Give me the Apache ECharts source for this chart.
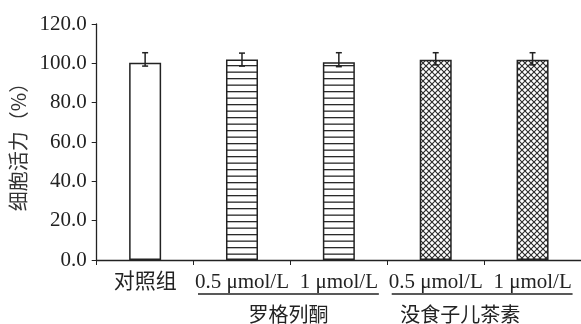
<!DOCTYPE html>
<html><head><meta charset="utf-8">
<script src="https://cdn.jsdelivr.net/npm/echarts@6/dist/echarts.min.js"></script>
<style>html,body{margin:0;padding:0;background:#fff}#c{width:581px;height:324px}</style>
</head><body><div id="c"></div>
<script>
// ---- data ----
var categories = ['对照组', '0.5 μmol/L', '1 μmol/L', '0.5 μmol/L', '1 μmol/L'];
var values = [100.3, 102.0, 100.5, 101.8, 101.8];
var errUpper = [105.4, 105.2, 105.4, 105.4, 105.4];
var errLower = [98.6, 98.6, 98.3, 99.2, 99.2];
var yTicks = [0, 20, 40, 60, 80, 100, 120];
var groupNames = ['罗格列酮', '没食子儿茶素'];
var groupSpans = [[1, 2], [3, 4]];
var yAxisName = '细胞活力（%）';

// ---- layout / style ----
var groupTextShift = [0, -22];
var SERIF = '"Liberation Serif","Noto Sans CJK SC",serif';
var CJK = '"Noto Sans CJK SC","Liberation Serif",serif';

function hPattern() {
  var c = document.createElement('canvas'); c.width = 8; c.height = 13;
  var g = c.getContext('2d'); g.fillStyle = '#fff'; g.fillRect(0,0,8,13);
  g.fillStyle = '#2a2a2a'; g.fillRect(0,0,8,1.3); g.fillRect(0,6.5,8,1.3);
  return c;
}
function xPattern() {
  var c = document.createElement('canvas'); c.width = 6; c.height = 6;
  var g = c.getContext('2d'); g.fillStyle = '#fff'; g.fillRect(0,0,6,6);
  g.strokeStyle = '#2a2a2a'; g.lineWidth = 1.1;
  g.beginPath(); g.moveTo(-1,-1); g.lineTo(7,7); g.moveTo(7,-1); g.lineTo(-1,7); g.stroke();
  return c;
}
var fills = ['#ffffff', {image: hPattern(), repeat: 'repeat'}, {image: hPattern(), repeat: 'repeat'},
             {image: xPattern(), repeat: 'repeat'}, {image: xPattern(), repeat: 'repeat'}];

var chart = echarts.init(document.getElementById('c'));
chart.setOption({
  animation: false,
  backgroundColor: '#fff',
  grid: {left: 96.7, right: -5.7, top: 24, bottom: 64},
  xAxis: {
    type: 'category', data: categories,
    axisLine: {lineStyle: {color: '#222', width: 1.3}},
    axisTick: {show: true, length: 5, lineStyle: {color: '#222'}},
    axisLabel: {fontFamily: SERIF, fontSize: 21, color: '#222', margin: 12, interval: 0}
  },
  yAxis: {
    type: 'value', min: 0, max: 120, interval: 20,
    name: yAxisName, nameLocation: 'middle', nameGap: 66, nameRotate: 90,
    nameTextStyle: {fontFamily: CJK, fontSize: 20, color: '#333'},
    axisLine: {show: true, lineStyle: {color: '#222', width: 1.3}},
    axisTick: {show: true, length: 5, lineStyle: {color: '#222'}},
    splitLine: {show: false},
    axisLabel: {fontFamily: SERIF, fontSize: 21, color: '#222', margin: 10,
      formatter: function (v) { return v.toFixed(1); }}
  },
  series: [{
    type: 'bar', barWidth: 32,
    data: values.map(function (v, i) {
      return {value: v, itemStyle: {color: fills[i], borderColor: '#222', borderWidth: 1.5}};
    })
  }, {
    type: 'custom',
    data: values.map(function (v, i) { return [i, errLower[i], errUpper[i]]; }),
    renderItem: function (params, api) {
      var lo = api.coord([api.value(0), api.value(1)]);
      var hi = api.coord([api.value(0), api.value(2)]);
      var w = 3;
      var st = {stroke: '#222', lineWidth: 1.5};
      return {type: 'group', children: [
        {type: 'line', shape: {x1: hi[0], y1: hi[1], x2: lo[0], y2: lo[1]}, style: st},
        {type: 'line', shape: {x1: hi[0]-w, y1: hi[1], x2: hi[0]+w, y2: hi[1]}, style: st},
        {type: 'line', shape: {x1: lo[0]-w, y1: lo[1], x2: lo[0]+w, y2: lo[1]}, style: st}
      ]};
    },
    z: 5
  }]
});

// group annotations beneath the category labels
var gfx = [];
groupSpans.forEach(function (sp, k) {
  var a = chart.convertToPixel({xAxisIndex: 0}, sp[0]);
  var b = chart.convertToPixel({xAxisIndex: 0}, sp[1]);
  var x1 = a - 44, x2 = b + 40;
  gfx.push({type: 'line', shape: {x1: x1, y1: 294, x2: x2, y2: 294}, style: {stroke: '#222', lineWidth: 1.6}});
  gfx.push({type: 'text', x: (x1 + x2) / 2 + groupTextShift[k], y: 314,
    style: {text: groupNames[k], font: '20px ' + CJK, fill: '#222', textAlign: 'center', textVerticalAlign: 'middle'}});
});
chart.setOption({graphic: gfx});
</script>
</body></html>
